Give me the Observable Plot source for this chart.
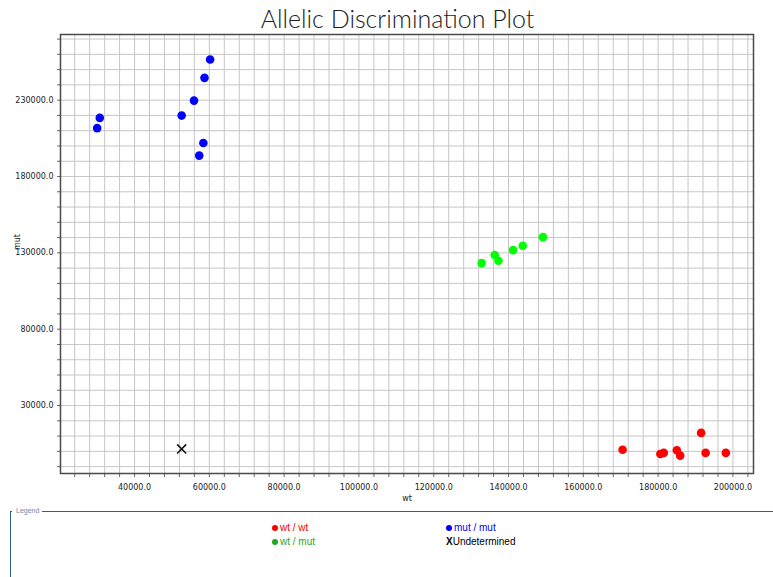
<!DOCTYPE html>
<html>
<head>
<meta charset="utf-8">
<script src="https://cdn.jsdelivr.net/npm/d3@7"></script>
<script src="https://cdn.jsdelivr.net/npm/@observablehq/plot@0.6"></script>
<style>
  html, body { margin: 0; padding: 0; background: #fff; }
  #wrap { position: relative; width: 773px; height: 577px; overflow: hidden; background: #fff; }
  #title { position: absolute; left: 11px; top: 3px; width: 773px; text-align: center;
           font-family: Lato, "Open Sans", sans-serif; font-weight: 300; font-size: 25px; color: #222; line-height: 30px; }
  #chart { position: absolute; left: 0; top: 0; }
  #legendBox { position: absolute; left: 10px; top: 511px; width: 770px; height: 80px;
               border-top: 1.5px solid #2f5f8f; border-left: 1.5px solid #2f5f8f; }
  #legendTitle { position: absolute; left: 12px; top: 506px; background: #fff; padding: 0 3px 0 4px;
                 font-family: "Liberation Sans", Arial, sans-serif; font-size: 7px; color: #7088aa; line-height: 10px; }
  .item { position: absolute; font-family: "Liberation Sans", Arial, sans-serif; font-size: 10px; line-height: 12px; white-space: nowrap; }
  .dot { display: inline-block; width: 6px; height: 6px; border-radius: 50%; margin-right: 2px; vertical-align: 0px; }
</style>
</head>
<body>
<div id="wrap">
  <div id="chart"></div>
  <div id="title">Allelic Discrimination Plot</div>
  <div id="legendBox"></div>
  <div id="legendTitle">Legend</div>
  <div id="legendItems"></div>
</div>
<script>
// ---- data ----
const wtwtX = [170500, 180600, 181500, 185000, 185900, 191500, 192700, 198100];
const wtwtY = [1100, -1700, -1000, 700, -2800, 12100, -1000, -1000];
const wtmutX = [132800, 136300, 137300, 141200, 143800, 149200];
const wtmutY = [123300, 128600, 124800, 131800, 134700, 140300];
const mutmutX = [60200, 58700, 55900, 52600, 30700, 30000, 58400, 57300];
const mutmutY = [256600, 244600, 229700, 219900, 218400, 211700, 201900, 193700];
const undetX = [52600];
const undetY = [1600];

const xLabeled = [40000, 60000, 80000, 100000, 120000, 140000, 160000, 180000, 200000];
const yLabeled = [30000, 80000, 130000, 180000, 230000];
const xMinor = d3.range(24000, 205000, 4000);
const yMinor = d3.range(-10000, 272000, 10000);

const legendEntries = [
  {label: "wt / wt", color: "#ff0000", text: "#ff0000", kind: "dot", col: 0, row: 0},
  {label: "wt / mut", color: "#1fa81f", text: "#1fa81f", kind: "dot", col: 0, row: 1},
  {label: "mut / mut", color: "#0000ff", text: "#0000ff", kind: "dot", col: 1, row: 0},
  {label: "Undetermined", color: "#000", text: "#000", kind: "x", col: 1, row: 1}
];

const toRows = (xs, ys, group) => xs.map((x, i) => ({x, y: ys[i], group}));
const wtwt = toRows(wtwtX, wtwtY, "wt / wt");
const wtmut = toRows(wtmutX, wtmutY, "wt / mut");
const mutmut = toRows(mutmutX, mutmutY, "mut / mut");
const undet = toRows(undetX, undetY, "Undetermined");

const fmt = d => d.toFixed(1);

const plot = Plot.plot({
  width: 773,
  height: 505,
  marginLeft: 60,
  marginRight: 20,
  marginTop: 34,
  marginBottom: 32,
  style: {fontFamily: "DejaVu Sans, sans-serif", fontSize: "8px", color: "#222", background: "#fff"},
  x: {domain: [20200, 205500]},
  y: {domain: [-14500, 273000]},
  marks: [
    Plot.gridX(xMinor, {stroke: "#c6c6c6", strokeOpacity: 1, strokeWidth: 1}),
    Plot.gridY(yMinor, {stroke: "#c6c6c6", strokeOpacity: 1, strokeWidth: 1}),
    Plot.axisX({ticks: xMinor, tickSize: 4, tickPadding: 7, stroke: "#666",
      tickFormat: d => xLabeled.includes(d) ? fmt(d) : "", label: null}),
    Plot.axisY({ticks: yMinor, tickSize: 3, tickPadding: 4, stroke: "#666",
      tickFormat: d => yLabeled.includes(d) ? fmt(d) : "", label: null}),
    Plot.text(["wt"], {frameAnchor: "bottom", dy: 27, fontSize: 8, fill: "#222"}),
    Plot.text(["mut"], {frameAnchor: "left", dx: -43, dy: -4, rotate: -90, fontSize: 8, fill: "#222"}),
    Plot.frame({stroke: "#4a4a4a", strokeWidth: 1.5}),
    Plot.dot(wtwt, {x: "x", y: "y", r: 4.3, fill: "#ff0000"}),
    Plot.dot(wtmut, {x: "x", y: "y", r: 4.3, fill: "#00ff00"}),
    Plot.dot(mutmut, {x: "x", y: "y", r: 4.3, fill: "#0000ff"}),
    Plot.dot(undet, {x: "x", y: "y", r: 4.2, symbol: "times", stroke: "#111", strokeWidth: 1.5})
  ]
});
document.getElementById("chart").appendChild(plot);

// legend
const li = document.getElementById("legendItems");
for (const e of legendEntries) {
  const d = document.createElement("div");
  d.className = "item";
  d.style.left = (e.col === 0 ? 272 : 446) + "px";
  d.style.top = (e.row === 0 ? 522 : 536) + "px";
  d.style.color = e.text;
  if (e.kind === "dot") {
    const s = document.createElement("span");
    s.className = "dot";
    s.style.background = e.color;
    d.appendChild(s);
  } else {
    const s = document.createElement("span");
    s.textContent = "X";
    s.style.fontWeight = "bold";
    s.style.fontSize = "10px";
    d.appendChild(s);
  }
  d.appendChild(document.createTextNode(e.label));
  li.appendChild(d);
}
</script>
</body>
</html>
